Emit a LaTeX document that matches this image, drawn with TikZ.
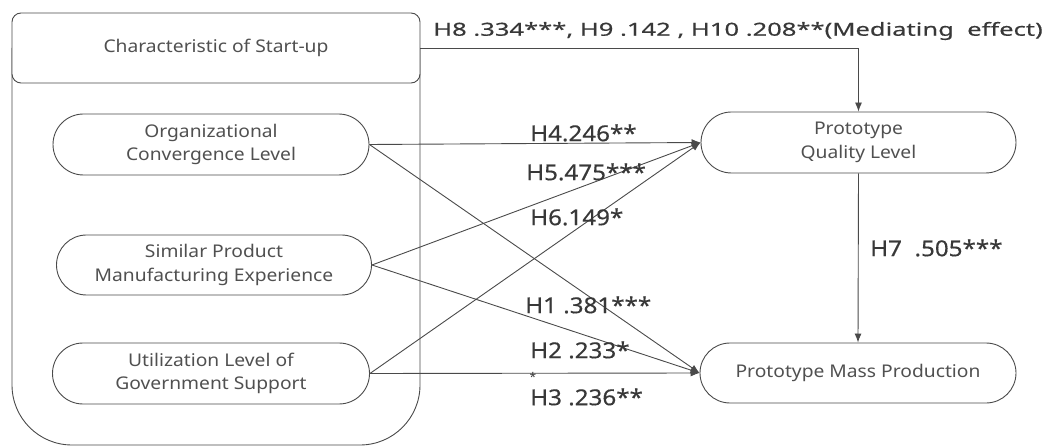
\documentclass[tikz,border=0pt]{standalone}
\usepackage{fontspec}
\setmainfont{Noto Sans}
\newfontfamily\nodefont[FakeStretch=1.1]{Noto Sans}
\newfontfamily\labfont[FakeStretch=1.1,FakeBold=0.4]{Noto Sans}
\newfontfamily\topfont[FakeStretch=1.42,FakeBold=0.4]{Noto Sans}
\usetikzlibrary{shapes.misc,arrows.meta}
\definecolor{lc}{HTML}{4A4A4A}
\definecolor{nodetext}{HTML}{505050}
\definecolor{labtext}{HTML}{383838}
\tikzset{
  stadium/.style={rounded rectangle, draw=lc, line width=0.9pt, minimum width=316pt, minimum height=61pt, inner sep=0pt, align=center, text=nodetext, font=\nodefont\fontsize{17.5}{23.5}\selectfont},
  conn/.style={draw=lc, line width=0.9pt, -{Latex[length=9pt,width=7pt]}},
  lab/.style={anchor=west, inner sep=0pt, text=labtext, font=\labfont\fontsize{22}{24}\selectfont},
  toplab/.style={anchor=west, inner sep=0pt, text=labtext, font=\topfont\fontsize{18}{20}\selectfont},
}
\begin{document}
\begin{tikzpicture}[x=1pt,y=-1pt]
\useasboundingbox (0,0) rectangle (1047,446);
% container body
\draw[lc, line width=0.9pt, rounded corners=60pt] (12,48) -- (12,445) -- (420,445) -- (420,48);
\node[draw=lc, line width=0.9pt, fill=white, rounded corners=9pt, minimum width=408pt, minimum height=70pt, inner sep=0pt, text=nodetext, font=\nodefont\fontsize{17.5}{20}\selectfont] (head) at (216,48) {Characteristic of Start-up};
% nodes
\node[stadium] (org) at (211,144.5) {Organizational\\Convergence Level};
\node[stadium, minimum width=315pt, minimum height=60pt] (sim) at (214,265) {Similar Product\\Manufacturing Experience};
\node[stadium, minimum width=317pt] (util) at (211,373.5) {Utilization Level of\\Government Support};
\node[stadium, minimum width=315pt] (qual) at (858.5,142.5) {Prototype\\Quality Level};
\node[stadium, minimum height=60pt] (mass) at (858,373) {Prototype Mass Production};
% connectors
\coordinate (bend) at (858.5,48);
\draw[conn] (head.east) -- (bend) -- (qual.north);
\draw[conn] (org.east) -- (qual.west);
\draw[conn] (org.east) -- (mass.west);
\draw[conn] (sim.east) -- (qual.west);
\draw[conn] (sim.east) -- (mass.west);
\draw[conn] (util.east) -- (qual.west);
\draw[conn] (util.east) -- (mass.west);
\draw[conn] (qual.south) -- (mass.north);
% labels
\node[toplab] (l8) at (433,31) {H8 .334***, H9 .142 , H10 .208**(Mediating\ \ effect)};
\node[lab] (l4) at (530,133) {H4.246**};
\node[lab] (l5) at (526,172) {H5.475***};
\node[lab] (l6) at (530,217) {H6.149*};
\node[lab] (l1) at (525,305) {H1\ .381***};
\node[lab] (l2) at (530,350) {H2\ .233*};
\node[inner sep=0pt, text=labtext, font=\fontsize{12}{12}\selectfont] (st) at (533,377) {*};
\node[lab] (l3) at (530,397) {H3\ .236**};
\node[lab] (l7) at (870,248) {H7\ \ .505***};
\end{tikzpicture}
\end{document}
